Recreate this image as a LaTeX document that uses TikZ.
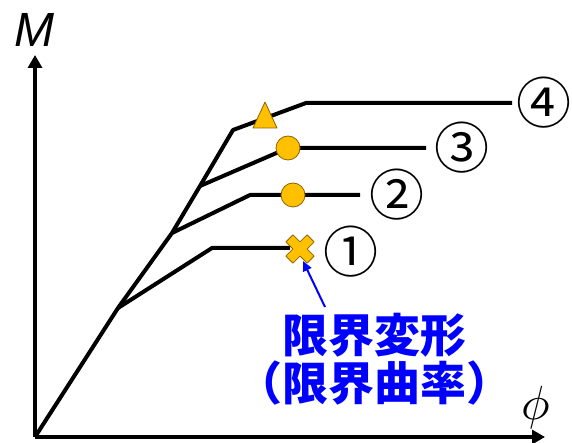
\documentclass[tikz,border=0pt]{standalone}
\usepackage{fontspec}
\setmainfont{Liberation Sans}
\newfontfamily\jp[RawFeature={+halt}]{Noto Sans CJK JP}
\newfontfamily\circfont{Noto Sans CJK JP}
\usetikzlibrary{arrows.meta}
\definecolor{mkfill}{RGB}{255,192,0}
\definecolor{mkline}{RGB}{140,100,0}
\definecolor{lblue}{RGB}{0,0,255}
\begin{document}
\begin{tikzpicture}[x=1pt,y=-1pt,
  axisline/.style={line width=4pt,-{Triangle[length=13pt,width=14pt]}},
  curveline/.style={line width=4pt,line join=round},
  mkstyle/.style={fill=mkfill,draw=mkline,line width=0.8pt,line join=round},
  numlabel/.style={font=\circfont\fontsize{55}{55}\selectfont,inner sep=0pt},
  bluelabel/.style={font=\jp\bfseries\fontsize{46}{48}\selectfont,text=lblue,align=center,inner sep=0pt},
  bluearrow/.style={draw=lblue,line width=2pt,-{Triangle[length=10pt,width=9pt]}}]
\useasboundingbox (0,0) rectangle (572,443);
% axes
\coordinate (O) at (35,437);
\coordinate (ytip) at (35,55);
\coordinate (xtip) at (545,437);
\draw[axisline] (O) -- (ytip);
\draw[axisline] (O) -- (xtip);
\node[font=\itshape\fontsize{48}{48}\selectfont,inner sep=0pt] (M) at (34,30) {M};
\node[inner sep=0pt] (phi) at (536,407) {\scalebox{4.8}{$\phi$}};
% main curve points
\coordinate (A) at (118,308);
\coordinate (B) at (172,233);
\coordinate (C) at (200,186);
\coordinate (D) at (233,130);
\coordinate (E) at (306,103);
\coordinate (F) at (512,103);
\draw[curveline] (O) -- (A) -- (B) -- (C) -- (D) -- (E) -- (F);
% branch 1
\coordinate (A1) at (212,248);
\coordinate (A2) at (290,248);
\draw[curveline] (A) -- (A1) -- (A2);
% branch 2
\coordinate (B1) at (250,195);
\coordinate (B2) at (360,195);
\draw[curveline] (B) -- (B1) -- (B2);
% branch 3
\coordinate (C1) at (288,148);
\coordinate (C2) at (426,148);
\draw[curveline] (C) -- (C1) -- (C2);
% markers
\node[mkstyle,circle,minimum size=24pt,inner sep=0pt] (m2) at (293,195) {};
\node[mkstyle,circle,minimum size=24pt,inner sep=0pt] (m3) at (C1) {};
\coordinate (tri) at (265,116);
\draw[mkstyle] ([shift={(0,-14)}]tri) -- ([shift={(12,12)}]tri) -- ([shift={(-12,12)}]tri) -- cycle;
\coordinate (xm) at (300,249);
\draw[mkstyle,shift={(300,249)},rotate=45] (-5,-15) -- (5,-15) -- (5,-5) -- (15,-5) -- (15,5) -- (5,5) -- (5,15) -- (-5,15) -- (-5,5) -- (-15,5) -- (-15,-5) -- (-5,-5) -- cycle;
% circled numbers
\node[numlabel] (n1) at (351,252) {①};
\node[numlabel] (n2) at (397,195) {②};
\node[numlabel] (n3) at (462,148) {③};
\node[numlabel] (n4) at (544,103) {④};
% blue label
\node[bluelabel] (lbl) at (374,359) {限界変形\\（限界曲率）};
\coordinate (arrs) at (325,307);
\coordinate (arre) at (303,261);
\draw[bluearrow] (arrs) -- (arre);
\end{tikzpicture}
\end{document}
